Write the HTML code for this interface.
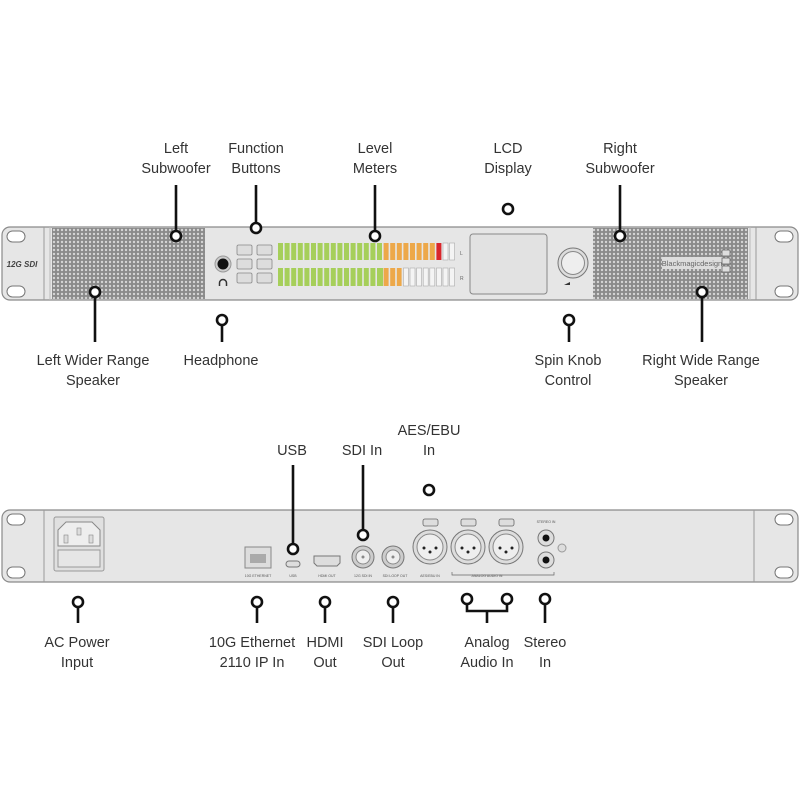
<!DOCTYPE html>
<html><head><meta charset="utf-8"><style>
html,body{margin:0;padding:0;background:#fff;width:800px;height:800px;overflow:hidden}
text{font-family:"Liberation Sans","DejaVu Sans",sans-serif;fill:#333}
</style></head><body>
<svg width="800" height="800" viewBox="0 0 800 800" xmlns="http://www.w3.org/2000/svg">
<defs>
<pattern id="grille" width="4" height="4" patternUnits="userSpaceOnUse">
<rect width="4" height="4" fill="#8a8a8a"/>
<circle cx="2" cy="2" r="1.2" fill="#d4d4d4"/>
</pattern>
</defs>
<g font-size="14.5" text-anchor="middle">
<!-- top labels -->
<text x="176" y="153">Left</text><text x="176" y="173">Subwoofer</text>
<text x="256" y="153">Function</text><text x="256" y="173">Buttons</text>
<text x="375" y="153">Level</text><text x="375" y="173">Meters</text>
<text x="508" y="153">LCD</text><text x="508" y="173">Display</text>
<text x="620" y="153">Right</text><text x="620" y="173">Subwoofer</text>
<text x="93" y="365">Left Wider Range</text><text x="93" y="385">Speaker</text>
<text x="221" y="365">Headphone</text>
<text x="568" y="365">Spin Knob</text><text x="568" y="385">Control</text>
<text x="701" y="365">Right Wide Range</text><text x="701" y="385">Speaker</text>
<text x="292" y="455">USB</text>
<text x="362" y="455">SDI In</text>
<text x="429" y="435">AES/EBU</text><text x="429" y="455">In</text>
<text x="77" y="647">AC Power</text><text x="77" y="667">Input</text>
<text x="252" y="647">10G Ethernet</text><text x="252" y="667">2110 IP In</text>
<text x="325" y="647">HDMI</text><text x="325" y="667">Out</text>
<text x="393" y="647">SDI Loop</text><text x="393" y="667">Out</text>
<text x="487" y="647">Analog</text><text x="487" y="667">Audio In</text>
<text x="545" y="647">Stereo</text><text x="545" y="667">In</text>
</g>

<!-- FRONT PANEL -->
<rect x="2" y="227" width="796" height="73" rx="8" fill="#e6e6e6" stroke="#8a8a8a" stroke-width="1.2"/>
<line x1="44" y1="227" x2="44" y2="300" stroke="#999"/>
<line x1="50" y1="227" x2="50" y2="300" stroke="#bbb"/>
<line x1="756" y1="227" x2="756" y2="300" stroke="#999"/>
<line x1="750" y1="227" x2="750" y2="300" stroke="#bbb"/>
<rect x="7" y="231" width="18" height="11" rx="5.5" fill="#fff" stroke="#777"/>
<rect x="7" y="286" width="18" height="11" rx="5.5" fill="#fff" stroke="#777"/>
<rect x="775" y="231" width="18" height="11" rx="5.5" fill="#fff" stroke="#777"/>
<rect x="775" y="286" width="18" height="11" rx="5.5" fill="#fff" stroke="#777"/>
<text x="22" y="267" font-size="8" font-weight="bold" font-style="italic" text-anchor="middle" style="fill:#444">12G SDI</text>
<rect x="52" y="228" width="153" height="71" fill="url(#grille)"/>
<rect x="593" y="228" width="155" height="71" fill="url(#grille)"/>
<rect x="662" y="257" width="60" height="12" fill="#ddd"/>
<text x="692" y="266" font-size="7.5" text-anchor="middle" style="fill:#666">Blackmagicdesign</text>
<rect x="722" y="250" width="8" height="6" fill="#ddd" stroke="#666" stroke-width="0.8"/>
<rect x="722" y="258" width="8" height="6" fill="#ddd" stroke="#666" stroke-width="0.8"/>
<rect x="722" y="266" width="8" height="6" fill="#ddd" stroke="#666" stroke-width="0.8"/>
<!-- headphone -->
<circle cx="223" cy="264" r="8" fill="#ccc" stroke="#999"/>
<circle cx="223" cy="264" r="5.5" fill="#111"/>
<path d="M219.5 286 v-3 a3.5 3.5 0 0 1 7 0 v3" fill="none" stroke="#333" stroke-width="1.5"/>
<!-- buttons -->
<g fill="#ddd" stroke="#888" stroke-width="0.8">
<rect x="237" y="245" width="15" height="10" rx="1.5"/><rect x="257" y="245" width="15" height="10" rx="1.5"/>
<rect x="237" y="259" width="15" height="10" rx="1.5"/><rect x="257" y="259" width="15" height="10" rx="1.5"/>
<rect x="237" y="273" width="15" height="10" rx="1.5"/><rect x="257" y="273" width="15" height="10" rx="1.5"/>
</g>
<!-- meters -->
<g id="m">
<rect x="278" y="243" width="5" height="17" fill="#a6cf5a"/><rect x="284.6" y="243" width="5" height="17" fill="#a6cf5a"/><rect x="291.2" y="243" width="5" height="17" fill="#a6cf5a"/><rect x="297.8" y="243" width="5" height="17" fill="#a6cf5a"/><rect x="304.4" y="243" width="5" height="17" fill="#a6cf5a"/><rect x="311" y="243" width="5" height="17" fill="#a6cf5a"/><rect x="317.6" y="243" width="5" height="17" fill="#a6cf5a"/><rect x="324.2" y="243" width="5" height="17" fill="#a6cf5a"/><rect x="330.8" y="243" width="5" height="17" fill="#a6cf5a"/><rect x="337.4" y="243" width="5" height="17" fill="#a6cf5a"/><rect x="344" y="243" width="5" height="17" fill="#a6cf5a"/><rect x="350.6" y="243" width="5" height="17" fill="#a6cf5a"/><rect x="357.2" y="243" width="5" height="17" fill="#a6cf5a"/><rect x="363.8" y="243" width="5" height="17" fill="#a6cf5a"/><rect x="370.4" y="243" width="5" height="17" fill="#a6cf5a"/><rect x="377" y="243" width="5" height="17" fill="#a6cf5a"/>
<rect x="383.6" y="243" width="5" height="17" fill="#eda849"/><rect x="390.2" y="243" width="5" height="17" fill="#eda849"/><rect x="396.8" y="243" width="5" height="17" fill="#eda849"/><rect x="403.4" y="243" width="5" height="17" fill="#eda849"/><rect x="410" y="243" width="5" height="17" fill="#eda849"/><rect x="416.6" y="243" width="5" height="17" fill="#eda849"/><rect x="423.2" y="243" width="5" height="17" fill="#eda849"/><rect x="429.8" y="243" width="5" height="17" fill="#eda849"/>
<rect x="436.4" y="243" width="5" height="17" fill="#d9262b"/>
<rect x="443" y="243" width="5" height="17" fill="#f4f4f4" stroke="#aaa" stroke-width="0.6"/><rect x="449.6" y="243" width="5" height="17" fill="#f4f4f4" stroke="#aaa" stroke-width="0.6"/>
</g>
<g>
<rect x="278" y="268" width="105" height="18" fill="#a6cf5a"/>
<rect x="383.6" y="268" width="18" height="18" fill="#eda849"/>
</g>
<g stroke="#e6e6e6" stroke-width="1.6">
<line x1="283.8" y1="268" x2="283.8" y2="286"/><line x1="290.4" y1="268" x2="290.4" y2="286"/><line x1="297" y1="268" x2="297" y2="286"/><line x1="303.6" y1="268" x2="303.6" y2="286"/><line x1="310.2" y1="268" x2="310.2" y2="286"/><line x1="316.8" y1="268" x2="316.8" y2="286"/><line x1="323.4" y1="268" x2="323.4" y2="286"/><line x1="330" y1="268" x2="330" y2="286"/><line x1="336.6" y1="268" x2="336.6" y2="286"/><line x1="343.2" y1="268" x2="343.2" y2="286"/><line x1="349.8" y1="268" x2="349.8" y2="286"/><line x1="356.4" y1="268" x2="356.4" y2="286"/><line x1="363" y1="268" x2="363" y2="286"/><line x1="369.6" y1="268" x2="369.6" y2="286"/><line x1="376.2" y1="268" x2="376.2" y2="286"/><line x1="389.4" y1="268" x2="389.4" y2="286"/><line x1="396" y1="268" x2="396" y2="286"/>
</g>
<g fill="#f4f4f4" stroke="#aaa" stroke-width="0.6">
<rect x="403.4" y="268" width="5" height="18"/><rect x="410" y="268" width="5" height="18"/><rect x="416.6" y="268" width="5" height="18"/><rect x="423.2" y="268" width="5" height="18"/><rect x="429.8" y="268" width="5" height="18"/><rect x="436.4" y="268" width="5" height="18"/><rect x="443" y="268" width="5" height="18"/><rect x="449.6" y="268" width="5" height="18"/>
</g>
<text x="460" y="255" font-size="5" style="fill:#666">L</text><text x="460" y="280" font-size="5" style="fill:#666">R</text>
<!-- LCD + knob -->
<rect x="470" y="234" width="77" height="60" rx="3" fill="#e2e2e2" stroke="#888"/>
<circle cx="573" cy="263" r="15" fill="#ddd" stroke="#777"/>
<circle cx="573" cy="263" r="11.5" fill="#eee" stroke="#888"/>
<path d="M564 285 l6 -3 v3 z" fill="#333"/>

<!-- REAR PANEL -->
<rect x="2" y="510" width="796" height="72" rx="8" fill="#e6e6e6" stroke="#8a8a8a" stroke-width="1.2"/>
<line x1="44" y1="510" x2="44" y2="582" stroke="#999"/>
<line x1="754" y1="510" x2="754" y2="582" stroke="#999"/>
<rect x="7" y="514" width="18" height="11" rx="5.5" fill="#fff" stroke="#777"/>
<rect x="7" y="567" width="18" height="11" rx="5.5" fill="#fff" stroke="#777"/>
<rect x="775" y="514" width="18" height="11" rx="5.5" fill="#fff" stroke="#777"/>
<rect x="775" y="567" width="18" height="11" rx="5.5" fill="#fff" stroke="#777"/>
<rect x="54" y="517" width="50" height="54" rx="2" fill="#e0e0e0" stroke="#999"/>
<path d="M58 530 l8 -8 h26 l8 8 v16 h-42 z" fill="#eee" stroke="#888"/>
<rect x="64" y="535" width="4" height="8" fill="#ddd" stroke="#888" stroke-width="0.6"/><rect x="77" y="528" width="4" height="7" fill="#ddd" stroke="#888" stroke-width="0.6"/><rect x="89" y="535" width="4" height="8" fill="#ddd" stroke="#888" stroke-width="0.6"/>
<rect x="58" y="550" width="42" height="17" fill="#e6e6e6" stroke="#999"/>
<rect x="245" y="547" width="26" height="21" fill="#ddd" stroke="#888"/>
<rect x="250" y="554" width="16" height="9" fill="#aaa"/>
<rect x="286" y="561" width="14" height="6" rx="3" fill="#ddd" stroke="#777"/>
<path d="M314 556 h26 v7 l-3 3 h-20 l-3 -3 z" fill="#ddd" stroke="#777"/>
<circle cx="363" cy="557" r="11" fill="#ccc" stroke="#777"/><circle cx="363" cy="557" r="7" fill="#eee" stroke="#888"/><circle cx="363" cy="557" r="1.5" fill="#888"/>
<circle cx="393" cy="557" r="11" fill="#ccc" stroke="#777"/><circle cx="393" cy="557" r="7" fill="#eee" stroke="#888"/><circle cx="393" cy="557" r="1.5" fill="#888"/>
<g font-size="3.5" text-anchor="middle" style="fill:#555">
<text x="258" y="577" style="fill:#555">10G ETHERNET</text><text x="293" y="577" style="fill:#555">USB</text><text x="327" y="577" style="fill:#555">HDMI OUT</text><text x="363" y="577" style="fill:#555">12G SDI IN</text><text x="395" y="577" style="fill:#555">SDI LOOP OUT</text><text x="430" y="577" style="fill:#555">AES/EBU IN</text><text x="487" y="577" style="fill:#555">ANALOG AUDIO IN</text><text x="546" y="523" style="fill:#555">STEREO IN</text>
</g>
<g>
<rect x="423" y="519" width="15" height="7" rx="2" fill="#ddd" stroke="#666" stroke-width="0.8"/>
<rect x="461" y="519" width="15" height="7" rx="2" fill="#ddd" stroke="#666" stroke-width="0.8"/>
<rect x="499" y="519" width="15" height="7" rx="2" fill="#ddd" stroke="#666" stroke-width="0.8"/>
<circle cx="430" cy="547" r="17" fill="#ddd" stroke="#777"/><circle cx="430" cy="547" r="13" fill="#eee" stroke="#888"/>
<circle cx="468" cy="547" r="17" fill="#ddd" stroke="#777"/><circle cx="468" cy="547" r="13" fill="#eee" stroke="#888"/>
<circle cx="506" cy="547" r="17" fill="#ddd" stroke="#777"/><circle cx="506" cy="547" r="13" fill="#eee" stroke="#888"/>
<g fill="#222"><circle cx="424" cy="548" r="1.5"/><circle cx="436" cy="548" r="1.5"/><circle cx="430" cy="552" r="1.5"/><circle cx="462" cy="548" r="1.5"/><circle cx="474" cy="548" r="1.5"/><circle cx="468" cy="552" r="1.5"/><circle cx="500" cy="548" r="1.5"/><circle cx="512" cy="548" r="1.5"/><circle cx="506" cy="552" r="1.5"/></g>
<circle cx="546" cy="538" r="8" fill="#ddd" stroke="#777"/><circle cx="546" cy="538" r="3.5" fill="#111"/>
<circle cx="546" cy="560" r="8" fill="#ddd" stroke="#777"/><circle cx="546" cy="560" r="3.5" fill="#111"/>
<circle cx="562" cy="548" r="4" fill="#ddd" stroke="#999"/>
<path d="M452 572 v3 h102 v-3" fill="none" stroke="#666" stroke-width="0.7"/>
</g>

<!-- CALLOUTS -->
<g stroke="#111" stroke-width="2.6" fill="#fff">
<line x1="176" y1="185" x2="176" y2="231"/><circle cx="176" cy="236" r="5"/>
<line x1="256" y1="185" x2="256" y2="223"/><circle cx="256" cy="228" r="5"/>
<line x1="375" y1="185" x2="375" y2="231"/><circle cx="375" cy="236" r="5"/>
<circle cx="508" cy="209" r="5"/>
<line x1="620" y1="185" x2="620" y2="231"/><circle cx="620" cy="236" r="5"/>
<line x1="95" y1="297" x2="95" y2="342"/><circle cx="95" cy="292" r="5"/>
<circle cx="222" cy="320" r="5"/><line x1="222" y1="325" x2="222" y2="342"/>
<circle cx="569" cy="320" r="5"/><line x1="569" y1="325" x2="569" y2="342"/>
<line x1="702" y1="297" x2="702" y2="342"/><circle cx="702" cy="292" r="5"/>
<line x1="293" y1="465" x2="293" y2="544"/><circle cx="293" cy="549" r="5"/>
<line x1="363" y1="465" x2="363" y2="530"/><circle cx="363" cy="535" r="5"/>
<circle cx="429" cy="490" r="5"/>
<circle cx="78" cy="602" r="5"/><line x1="78" y1="607" x2="78" y2="623"/>
<circle cx="257" cy="602" r="5"/><line x1="257" y1="607" x2="257" y2="623"/>
<circle cx="325" cy="602" r="5"/><line x1="325" y1="607" x2="325" y2="623"/>
<circle cx="393" cy="602" r="5"/><line x1="393" y1="607" x2="393" y2="623"/>
<path d="M467 604 v7 h40 v-7 M487 611 v12" fill="none"/>
<circle cx="467" cy="599" r="5"/><circle cx="507" cy="599" r="5"/>
<circle cx="545" cy="599" r="5"/><line x1="545" y1="604" x2="545" y2="623"/>
</g>
</svg>
</body></html>
